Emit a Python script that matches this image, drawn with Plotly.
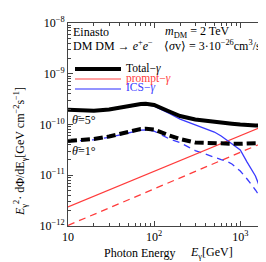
import plotly.graph_objects as go

# Photon energy grid [GeV]
energy = [10, 15, 20, 30, 40, 50, 60, 70, 80, 100, 150, 200, 300, 400, 500,
          600, 700, 800, 1000, 1200, 1500, 1700, 1900, 2000]

# theta = 5 deg
total_5 = [1.957e-10, 1.888e-10, 1.871e-10, 1.975e-10, 2.163e-10, 2.315e-10, 2.422e-10,
           2.534e-10, 2.570e-10, 2.422e-10, 1.804e-10, 1.471e-10, 1.254e-10, 1.172e-10,
           1.120e-10, 1.085e-10, 1.061e-10, 1.037e-10, 1.000e-10, 9.69e-11, 9.56e-11,
           9.56e-11, 1.000e-10, 1.070e-10]
prompt_5 = [2.37e-12, 3.15e-12, 3.85e-12, 5.12e-12, 6.28e-12, 7.33e-12, 8.32e-12, 9.28e-12,
            1.021e-11, 1.197e-11, 1.592e-11, 1.944e-11, 2.587e-11, 3.16e-11, 3.70e-11,
            4.20e-11, 4.69e-11, 5.13e-11, 6.02e-11, 6.83e-11, 8.00e-11, 8.73e-11, 9.43e-11,
            9.77e-11]
ics_5 = [1.93e-10, 1.856e-10, 1.833e-10, 1.924e-10, 2.10e-10, 2.24e-10, 2.34e-10, 2.44e-10,
         2.47e-10, 2.30e-10, 1.645e-10, 1.28e-10, 9.8e-11, 8.2e-11, 7.1e-11, 5.93e-11,
         4.95e-11, 4.13e-11, 3.14e-11, 1.82e-11, 9.66e-12, 5.61e-12, 2.59e-12, 8.0e-13]

# theta = 1 deg
total_1 = [4.73e-11, 4.95e-11, 5.18e-11, 5.80e-11, 6.50e-11, 7.28e-11, 7.79e-11, 8.15e-11,
           8.26e-11, 7.97e-11, 6.07e-11, 5.18e-11, 4.42e-11, 4.32e-11, 4.22e-11, 4.18e-11,
           4.18e-11, 4.18e-11, 4.18e-11, 4.18e-11, 4.22e-11, 4.32e-11, 4.52e-11, 4.73e-11]
prompt_1 = [1.028e-12, 1.373e-12, 1.693e-12, 2.263e-12, 2.788e-12, 3.268e-12, 3.727e-12,
            4.175e-12, 4.59e-12, 5.38e-12, 7.23e-12, 8.87e-12, 1.186e-11, 1.461e-11,
            1.712e-11, 1.953e-11, 2.178e-11, 2.406e-11, 2.82e-11, 3.22e-11, 3.79e-11,
            4.13e-11, 4.48e-11, 4.65e-11]
ics_1 = [4.63e-11, 4.81e-11, 5.01e-11, 5.57e-11, 6.22e-11, 6.95e-11, 7.42e-11, 7.73e-11,
         7.80e-11, 7.43e-11, 5.2e-11, 4.4e-11, 3.07e-11, 2.56e-11, 2.26e-11, 2.03e-11,
         1.87e-11, 1.67e-11, 1.21e-11, 8.43e-12, 5.12e-12, 3.73e-12, 2.59e-12, 1.2e-12]

x_tickvals = [10, 100, 1000]
x_ticktext = ["10", "10<sup>2</sup>", "10<sup>3</sup>"]
y_tickvals = [1e-12, 1e-11, 1e-10, 1e-9, 1e-8]
y_ticktext = ["10<sup>\u221212</sup>", "10<sup>\u221211</sup>", "10<sup>\u221210</sup>",
              "10<sup>\u22129</sup>", "10<sup>\u22128</sup>"]

RED = "#ff3b3b"
BLUE = "#3a3aff"
FONT = "Liberation Serif"

fig = go.Figure()
fig.add_trace(go.Scatter(x=energy, y=prompt_1, mode="lines",
                         line=dict(color=RED, width=1.3, dash="7px,5px")))
fig.add_trace(go.Scatter(x=energy, y=ics_1, mode="lines",
                         line=dict(color=BLUE, width=1.3, dash="7px,5px")))
fig.add_trace(go.Scatter(x=energy, y=prompt_5, mode="lines",
                         line=dict(color=RED, width=1.3)))
fig.add_trace(go.Scatter(x=energy, y=ics_5, mode="lines",
                         line=dict(color=BLUE, width=1.3)))
fig.add_trace(go.Scatter(x=energy, y=total_1, mode="lines",
                         line=dict(color="black", width=4, dash="9px,4px")))
fig.add_trace(go.Scatter(x=energy, y=total_5, mode="lines",
                         line=dict(color="black", width=4)))

W, H = 266, 262
L, R, T, B = 60, 260, 15, 218


def px(x, y):
    return (x - L) / (R - L), 1 - (y - T) / (B - T)


def note(text, x, y, color="black", size=12, xanchor="left"):
    xp, yp = px(x, y)
    fig.add_annotation(text=text, x=xp, y=yp, xref="paper", yref="paper",
                       xanchor=xanchor, yanchor="middle", showarrow=False,
                       font=dict(family=FONT, size=size, color=color))


def legline(y, color, width):
    x0, yp = px(67, y)
    x1, _ = px(113, y)
    fig.add_shape(type="line", x0=x0, x1=x1, y0=yp, y1=yp, xref="paper", yref="paper",
                  line=dict(color=color, width=width))


note("Einasto", 63, 24)
note("DM DM \u2192 <i>e</i><sup>+</sup><i>e</i><sup>\u2212</sup>", 63, 38)
note("<i>m</i><sub>DM</sub> = 2 TeV", 155, 24)
note("\u27e8<i>\u03c3</i>v\u27e9 = 3\u00b710<sup>\u221226</sup>cm<sup>3</sup>/s", 154, 38)

legline(61, "black", 4)
legline(71, "#ff8080", 1.6)
legline(81, "#7070ff", 1.6)
note("Total\u2212<i>\u03b3</i>", 116, 60, size=11.5)
note("prompt\u2212<i>\u03b3</i>", 116, 70, color=RED, size=11.5)
note("ICS\u2212<i>\u03b3</i>", 116, 80, color=BLUE, size=11.5)

note("<i>\u03b8\u0304</i>=5\u00b0", 62, 112, size=12)
note("<i>\u03b8\u0304</i>=1\u00b0", 62, 143, size=12)

# axis titles
note("Photon Energy", 131, 245, xanchor="center")
note("<i>E</i><sub>\u03b3</sub>[GeV]", 180, 245)
fig.add_annotation(text="<i>E</i><sub>\u03b3</sub><sup>2</sup>\u00b7 d\u03a6/dE<sub>\u03b3</sub>[GeV cm<sup>\u22122</sup>s<sup>\u22121</sup>]",
                   x=px(12, 0)[0], y=px(0, 144)[1], xref="paper", yref="paper",
                   xanchor="center", yanchor="middle", showarrow=False, textangle=-90,
                   font=dict(family=FONT, size=12, color="black"))

axis_common = dict(showline=True, linecolor="#444", linewidth=1, mirror="allticks",
                   ticks="inside", ticklen=5, tickcolor="#444", showgrid=False,
                   zeroline=False, tickfont=dict(family=FONT, size=12, color="black"))

fig.update_xaxes(type="log", range=[1, 3.322], tickmode="array",
                 tickvals=x_tickvals, ticktext=x_ticktext,
                 minor=dict(ticks="inside", ticklen=3, tickcolor="#444",
                            tickvals=[20, 30, 40, 50, 60, 70, 80, 90, 200, 300, 400, 500,
                                      600, 700, 800, 900, 2000]),
                 **axis_common)
fig.update_yaxes(type="log", range=[-12, -8], tickmode="array",
                 tickvals=y_tickvals, ticktext=y_ticktext,
                 minor=dict(ticks="inside", ticklen=3, tickcolor="#444",
                            tickvals=[m * 10.0 ** e for e in range(-12, -8)
                                      for m in range(2, 10)]),
                 **axis_common)

fig.update_layout(width=W, height=H, margin=dict(l=L, r=W - R, t=T, b=H - B),
                  showlegend=False, paper_bgcolor="white", plot_bgcolor="white")

fig.write_html("out.html")
